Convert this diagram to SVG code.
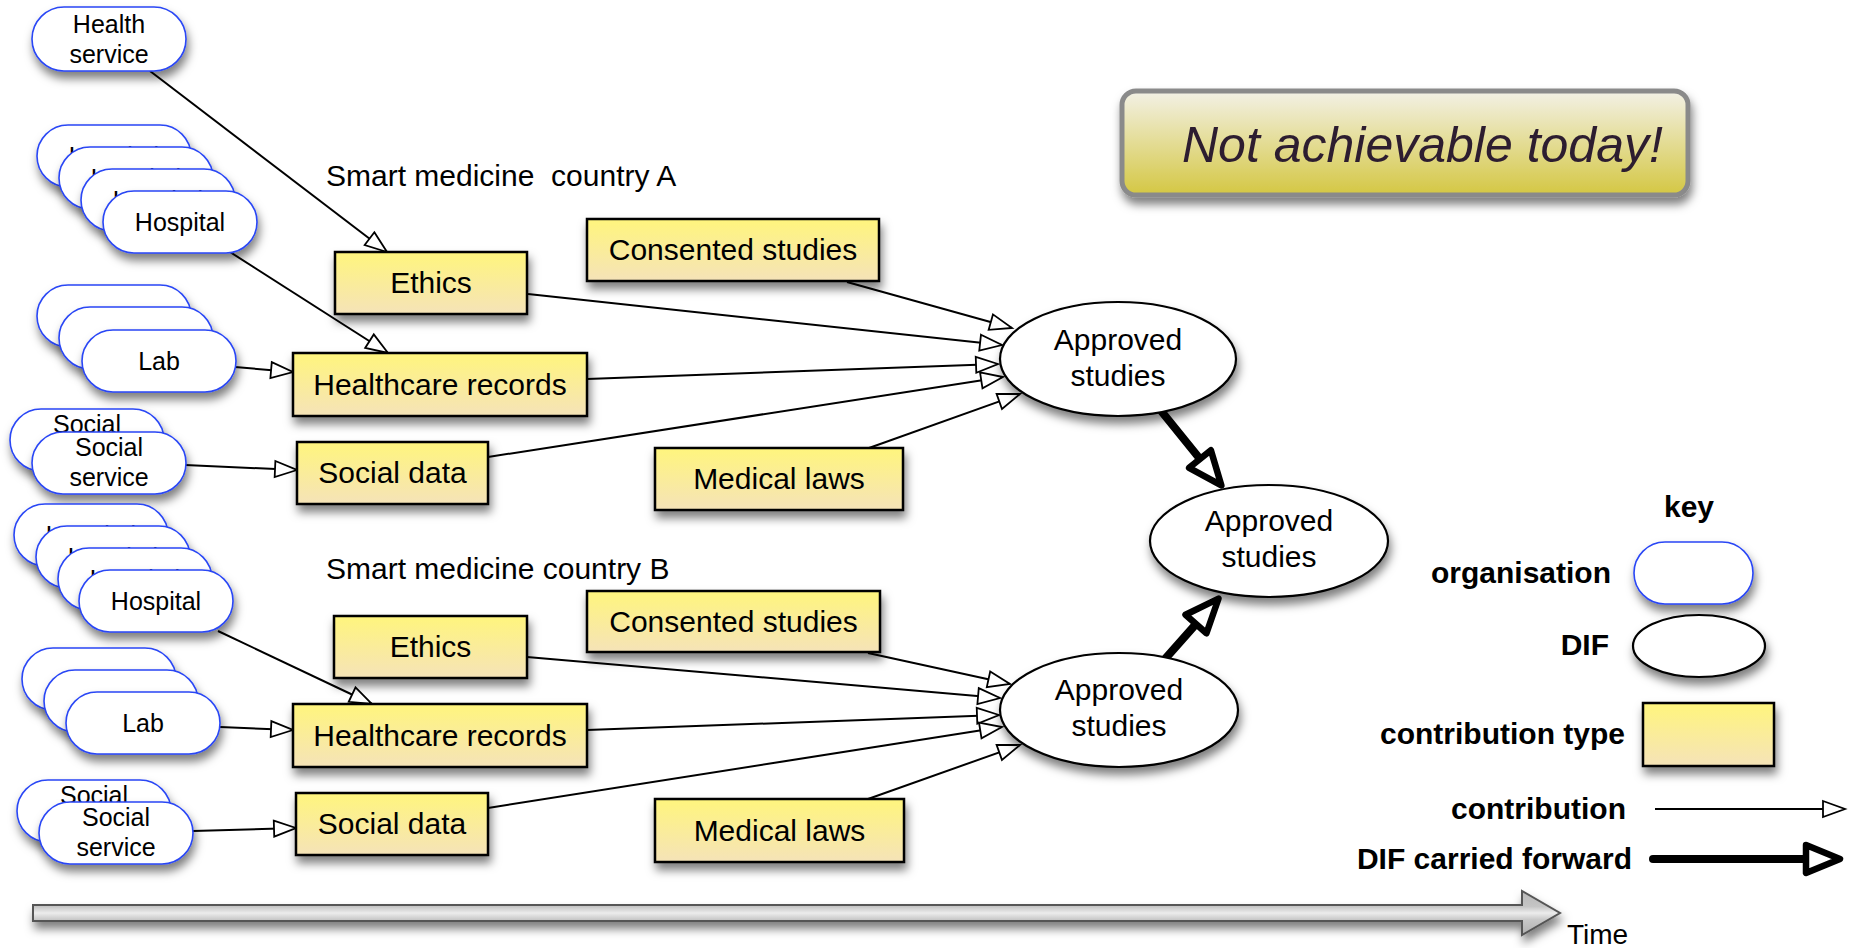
<svg xmlns="http://www.w3.org/2000/svg" width="1858" height="948" viewBox="0 0 1858 948">
<defs>
  <filter id="sh" x="-20%" y="-20%" width="150%" height="170%">
    <feDropShadow dx="2" dy="7" stdDeviation="5" flood-color="#000" flood-opacity="0.5"/>
  </filter>
  <linearGradient id="yg" x1="0" y1="0" x2="0" y2="1">
    <stop offset="0" stop-color="#fff57d"/>
    <stop offset="1" stop-color="#f5e3b8"/>
  </linearGradient>
  <linearGradient id="ng" x1="0" y1="0" x2="0" y2="1">
    <stop offset="0" stop-color="#f3f1e6"/>
    <stop offset="1" stop-color="#d4c743"/>
  </linearGradient>
  <linearGradient id="tg" x1="0" y1="0" x2="0" y2="1">
    <stop offset="0" stop-color="#b8b8b8"/>
    <stop offset="0.35" stop-color="#c4c4c4"/>
    <stop offset="0.5" stop-color="#ececec"/>
    <stop offset="0.65" stop-color="#c8c8c8"/>
    <stop offset="1" stop-color="#b0b0b0"/>
  </linearGradient>
  <marker id="ah" markerUnits="userSpaceOnUse" markerWidth="28" markerHeight="22" refX="24" refY="10" orient="auto">
    <path d="M2,2 L24,10 L2,18 z" fill="#fff" stroke="#000" stroke-width="1.8" stroke-linejoin="miter"/>
  </marker>
  <marker id="hh" markerUnits="userSpaceOnUse" markerWidth="48" markerHeight="40" refX="4" refY="18" orient="auto" overflow="visible">
    <path d="M4,4 L38,18 L4,32 z" fill="#fff" stroke="#000" stroke-width="6.5" stroke-linejoin="round"/>
  </marker>
  <style>
    .org{fill:#fff;stroke:#2946f5;stroke-width:1.6;filter:url(#sh)}
    .ct{fill:url(#yg);stroke:#000;stroke-width:2.5;filter:url(#sh)}
    .dif{fill:#fff;stroke:#000;stroke-width:2.2;filter:url(#sh)}
    text{font-family:"Liberation Sans",Arial,Helvetica,sans-serif;fill:#000}
    .to{font-size:25px;text-anchor:middle}
    .ty{font-size:30px;text-anchor:middle}
    .tl{font-size:30px;white-space:pre}
    .kb{font-size:30px;font-weight:bold;text-anchor:end}
    .c{fill:none;stroke:#000;stroke-width:2;marker-end:url(#ah)}
    .h{fill:none;stroke:#000;stroke-width:8;stroke-linecap:round;marker-end:url(#hh)}
  </style>
</defs>
<rect width="1858" height="948" fill="#fff"/>

<!-- Not achievable banner -->
<g id="banner">
  <rect x="1122" y="91" width="566" height="104" rx="14" fill="url(#ng)" stroke="#8a8a8a" stroke-width="5" filter="url(#sh)"/>
  <text x="1182" y="162" style="font-size:50px;font-style:italic;fill:#2d1d30">Not achievable today!</text>
</g>

<!-- Titles -->
<text class="tl" x="326" y="186" xml:space="preserve">Smart medicine  country A</text>
<text class="tl" x="326" y="579">Smart medicine country B</text>

<!-- Connectors -->
<g id="connectors">
  <line class="c" x1="150" y1="71" x2="387" y2="252"/>
  <line class="c" x1="230" y1="252" x2="388" y2="353"/>
  <line class="c" x1="235" y1="367" x2="293" y2="372"/>
  <line class="c" x1="185" y1="465" x2="297" y2="470"/>
  <line class="c" x1="847" y1="282" x2="1012" y2="328"/>
  <line class="c" x1="528" y1="294" x2="1002" y2="345"/>
  <line class="c" x1="587" y1="379" x2="998" y2="364"/>
  <line class="c" x1="488" y1="457" x2="1003" y2="377"/>
  <line class="c" x1="869" y1="448" x2="1020" y2="394"/>
  <line class="c" x1="218" y1="631" x2="372" y2="704"/>
  <line class="c" x1="220" y1="727" x2="293" y2="730"/>
  <line class="c" x1="193" y1="831" x2="296" y2="828"/>
  <line class="c" x1="868" y1="653" x2="1010" y2="684"/>
  <line class="c" x1="527" y1="657" x2="1000" y2="698"/>
  <line class="c" x1="587" y1="730" x2="999" y2="715"/>
  <line class="c" x1="488" y1="808" x2="1002" y2="727"/>
  <line class="c" x1="868" y1="799" x2="1020" y2="745"/>
  <line class="h" x1="1162" y1="412" x2="1200" y2="459"/>
  <line class="h" x1="1165" y1="659" x2="1196" y2="624"/>
</g>

<!-- Country A organisations -->
<g id="health-service">
  <rect class="org" x="32" y="7" width="154" height="64" rx="32"/>
  <text class="to" x="109" y="33">Health</text>
  <text class="to" x="109" y="63">service</text>
</g>
<g id="hospital-a">
  <rect class="org" x="37" y="125" width="154" height="62" rx="31"/>
  <text class="to" x="114" y="165">Hospital</text>
  <rect class="org" x="59" y="147" width="154" height="62" rx="31"/>
  <text class="to" x="136" y="187">Hospital</text>
  <rect class="org" x="81" y="169" width="154" height="62" rx="31"/>
  <text class="to" x="158" y="209">Hospital</text>
  <rect class="org" x="103" y="191" width="154" height="62" rx="31"/>
  <text class="to" x="180" y="231">Hospital</text>
</g>
<g id="lab-a">
  <rect class="org" x="37" y="285" width="154" height="62" rx="31"/>
  <rect class="org" x="59" y="307" width="154" height="62" rx="31"/>
  <rect class="org" x="82" y="330" width="154" height="62" rx="31"/>
  <text class="to" x="159" y="370">Lab</text>
</g>
<g id="social-a">
  <rect class="org" x="10" y="409" width="154" height="62" rx="31"/>
  <text class="to" x="87" y="433">Social</text>
  <rect class="org" x="32" y="432" width="154" height="62" rx="31"/>
  <text class="to" x="109" y="456">Social</text>
  <text class="to" x="109" y="486">service</text>
</g>

<!-- Country A contribution types -->
<g id="ethics-a"><rect class="ct" x="335" y="252" width="192" height="62"/><text class="ty" x="431" y="293">Ethics</text></g>
<g id="healthcare-a"><rect class="ct" x="293" y="353" width="294" height="63"/><text class="ty" x="440" y="395">Healthcare records</text></g>
<g id="social-data-a"><rect class="ct" x="297" y="442" width="191" height="62"/><text class="ty" x="392.5" y="483">Social data</text></g>
<g id="consented-a"><rect class="ct" x="587" y="219" width="292" height="62"/><text class="ty" x="733" y="260">Consented studies</text></g>
<g id="laws-a"><rect class="ct" x="655" y="448" width="248" height="62"/><text class="ty" x="779" y="489">Medical laws</text></g>

<!-- Country B organisations -->
<g id="hospital-b">
  <rect class="org" x="14" y="504" width="154" height="62" rx="31"/>
  <text class="to" x="91" y="544">Hospital</text>
  <rect class="org" x="36" y="526" width="154" height="62" rx="31"/>
  <text class="to" x="113" y="566">Hospital</text>
  <rect class="org" x="58" y="548" width="154" height="62" rx="31"/>
  <text class="to" x="135" y="588">Hospital</text>
  <rect class="org" x="79" y="570" width="154" height="62" rx="31"/>
  <text class="to" x="156" y="610">Hospital</text>
</g>
<g id="lab-b">
  <rect class="org" x="22" y="648" width="154" height="62" rx="31"/>
  <rect class="org" x="44" y="670" width="154" height="62" rx="31"/>
  <rect class="org" x="66" y="692" width="154" height="62" rx="31"/>
  <text class="to" x="143" y="732">Lab</text>
</g>
<g id="social-b">
  <rect class="org" x="17" y="780" width="154" height="62" rx="31"/>
  <text class="to" x="94" y="804">Social</text>
  <rect class="org" x="39" y="802" width="154" height="62" rx="31"/>
  <text class="to" x="116" y="826">Social</text>
  <text class="to" x="116" y="856">service</text>
</g>

<!-- Country B contribution types -->
<g id="ethics-b"><rect class="ct" x="334" y="616" width="193" height="62"/><text class="ty" x="430.5" y="657">Ethics</text></g>
<g id="healthcare-b"><rect class="ct" x="293" y="704" width="294" height="63"/><text class="ty" x="440" y="746">Healthcare records</text></g>
<g id="social-data-b"><rect class="ct" x="296" y="793" width="192" height="62"/><text class="ty" x="392" y="834">Social data</text></g>
<g id="consented-b"><rect class="ct" x="587" y="591" width="293" height="61"/><text class="ty" x="733.5" y="632">Consented studies</text></g>
<g id="laws-b"><rect class="ct" x="655" y="799" width="249" height="63"/><text class="ty" x="779.5" y="841">Medical laws</text></g>

<!-- DIFs -->
<g id="approved-a"><ellipse class="dif" cx="1118" cy="359" rx="118" ry="57"/><text class="ty" x="1118" y="350">Approved</text><text class="ty" x="1118" y="386">studies</text></g>
<g id="approved-mid"><ellipse class="dif" cx="1269" cy="541" rx="119" ry="56"/><text class="ty" x="1269" y="531">Approved</text><text class="ty" x="1269" y="567">studies</text></g>
<g id="approved-b"><ellipse class="dif" cx="1119" cy="710" rx="119" ry="57"/><text class="ty" x="1119" y="700">Approved</text><text class="ty" x="1119" y="736">studies</text></g>

<!-- Key -->
<g id="key">
  <text x="1689" y="517" style="font-size:30px;font-weight:bold;text-anchor:middle">key</text>
  <text class="kb" x="1611" y="583">organisation</text>
  <rect class="org" x="1634" y="542" width="119" height="62" rx="31"/>
  <text class="kb" x="1609" y="655">DIF</text>
  <ellipse class="dif" cx="1699" cy="646" rx="66" ry="31"/>
  <text class="kb" x="1625" y="744">contribution type</text>
  <rect class="ct" x="1643" y="703" width="131" height="63"/>
  <text class="kb" x="1626" y="819">contribution</text>
  <line class="c" x1="1655" y1="809" x2="1845" y2="809"/>
  <text class="kb" x="1632" y="869">DIF carried forward</text>
  <line class="h" x1="1653" y1="859" x2="1806" y2="859"/>
</g>

<!-- Time arrow -->
<g id="time">
  <polygon points="33,905 1522,905 1522,891 1560,913 1522,935 1522,921 33,921" fill="url(#tg)" stroke="#555" stroke-width="2" filter="url(#sh)"/>
  <text x="1567" y="944" style="font-size:28px">Time</text>
</g>
</svg>
